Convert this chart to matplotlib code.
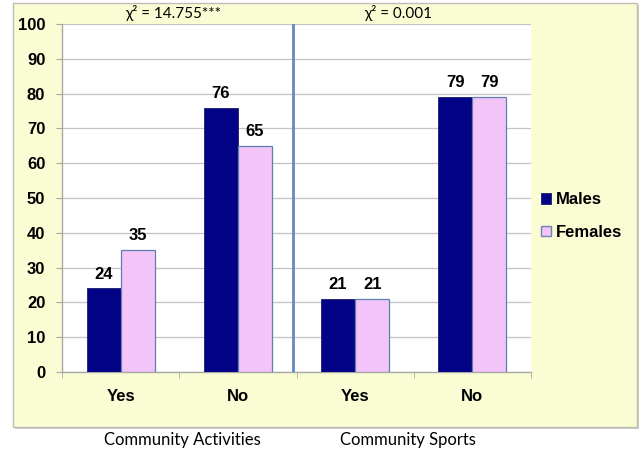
"""Community activities / sports participation by sex, bar chart."""

import matplotlib

matplotlib.use("Agg")
import matplotlib.pyplot as plt
import numpy as np
from matplotlib.patches import Patch, Rectangle

# data
answers = ["Yes", "No", "Yes", "No"]
males = [24, 76, 21, 79]
females = [35, 65, 21, 79]
sections = ["Community Activities", "Community Sports"]
chi_labels = ["χ² = 14.755***", "χ² = 0.001"]
y_ticks = list(range(0, 101, 10))

MALE_COLOR = "#020385"
FEMALE_COLOR = "#F2C4F8"
PANEL_COLOR = "#FAFDD4"

W, H = 642, 451
fig = plt.figure(figsize=(W / 100, H / 100), dpi=100)


def px(x, y):
    return x / W, 1 - y / H


# yellow panel behind the chart
fig.patches.append(
    Rectangle((15 / W, 1 - 429 / H), 624 / W, 424 / H, transform=fig.transFigure,
              facecolor="#D0D0C8", edgecolor="none", zorder=-2)
)
fig.patches.append(
    Rectangle((13 / W, 1 - 427 / H), 624 / W, 424 / H, transform=fig.transFigure,
              facecolor=PANEL_COLOR, edgecolor="#BDBDB5", lw=1.0, zorder=-1)
)

x0, y0 = px(62, 372)
x1, y1 = px(531, 24)
ax = fig.add_axes([x0, y0, x1 - x0, y1 - y0])
ax.set_facecolor("white")

x = np.arange(len(answers))
w = 0.29
ax.bar(x - w / 2, males, w, color=MALE_COLOR, edgecolor="#1B1B6B", lw=0.6, zorder=3,
       label="Males")
ax.bar(x + w / 2, females, w, color=FEMALE_COLOR, edgecolor="#5F7FAE", lw=0.9, zorder=3,
       label="Females")

for xi, m, f in zip(x, males, females):
    ax.text(xi - w / 2, m + 2.0, str(m), ha="center", va="bottom",
            fontsize=12, fontweight="bold", family="Liberation Sans")
    ax.text(xi + w / 2, f + 2.0, str(f), ha="center", va="bottom",
            fontsize=12, fontweight="bold", family="Liberation Sans")

ax.axvline(1.47, color="#6189C4", lw=2.0, zorder=4)

ax.set_xlim(-0.5, len(answers) - 0.5)
ax.set_ylim(0, 100)
ax.set_yticks(y_ticks)
ax.grid(axis="y", color="#C4C4C4", lw=0.9, zorder=0)
ax.set_axisbelow(True)

ax.set_xticks(x)
ax.set_xticklabels(answers)
ax.set_xticks(np.arange(-0.5, len(answers), 1.0), minor=True)
ax.tick_params(axis="x", which="major", length=0, pad=12)
ax.tick_params(axis="x", which="minor", length=4, color="#A8A8A8", direction="out")
ax.tick_params(axis="y", length=4, color="#A8A8A8", pad=8)
for lbl in ax.get_xticklabels() + ax.get_yticklabels():
    lbl.set_fontsize(12)
    lbl.set_fontweight("bold")
    lbl.set_family("Liberation Sans")

for side in ("top", "right"):
    ax.spines[side].set_visible(False)
for side in ("left", "bottom"):
    ax.spines[side].set_color("#A8A8A8")
    ax.spines[side].set_linewidth(1.0)

handles = [
    Patch(facecolor=MALE_COLOR, edgecolor="#1B1B6B", lw=0.6, label="Males"),
    Patch(facecolor=FEMALE_COLOR, edgecolor="#6A86B0", lw=1.0, label="Females"),
]
fig.legend(
    handles=handles,
    loc="center left",
    bbox_to_anchor=px(526, 216),
    frameon=False,
    handlelength=0.6,
    handleheight=0.6,
    handletextpad=0.3,
    labelspacing=1.05,
    prop={"family": "Liberation Sans", "weight": "bold", "size": 12},
)

# chi-square notes above each half, section names under the panel
for cx, lab in zip([173, 398], chi_labels):
    fig.text(*px(cx, 13), lab, ha="center", va="center", fontsize=11, family="Lato")
for cx, lab in zip([182, 408], sections):
    fig.text(*px(cx, 440), lab, ha="center", va="center", fontsize=12, family="Lato")

fig.savefig("out.png", dpi=100)
